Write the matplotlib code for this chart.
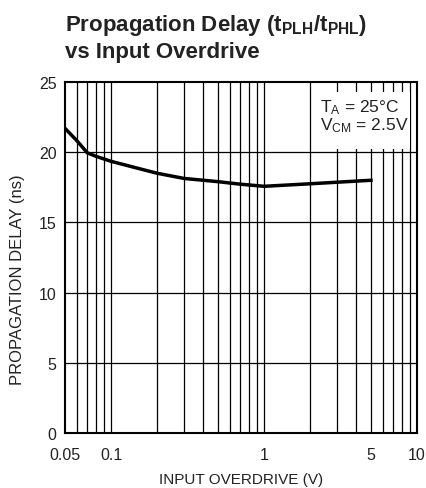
import numpy as np
import matplotlib.pyplot as plt
from matplotlib.ticker import FixedLocator, FixedFormatter, NullFormatter
from matplotlib.patches import Rectangle

plt.rcParams['font.family'] = ['Liberation Sans Narrow', 'Liberation Sans', 'DejaVu Sans']
plt.rcParams['mathtext.default'] = 'regular'

# curve
overdrive = [0.05, 0.06, 0.07, 0.08, 0.1, 0.15, 0.2, 0.3, 0.5, 0.7, 1.0, 2.0, 5.0]
delay = [21.7, 20.8, 19.95, 19.7, 19.35, 18.85, 18.5, 18.13, 17.9, 17.72, 17.57, 17.75, 18.0]

x_ticks = [0.05, 0.1, 1, 5, 10]
x_tick_labels = ['0.05', '0.1', '1', '5', '10']
y_ticks = [0, 5, 10, 15, 20, 25]

fig = plt.figure(figsize=(4.27, 4.89), dpi=100)
ax = fig.add_axes([0.1522, 0.1125, 0.8244, 0.7178])

ax.plot(overdrive, delay, color='black', linewidth=2.5, zorder=4)

ax.set_xscale('log')
ax.set_xlim(0.05, 10)
ax.set_ylim(0, 25)

# vertical grid at every decade subdivision
grid_x = [0.06, 0.07, 0.08, 0.09, 0.1, 0.2, 0.3, 0.4, 0.5, 0.6, 0.7, 0.8, 0.9,
          1, 2, 3, 4, 5, 6, 7, 8, 9]
for gx in grid_x:
    ax.axvline(gx, color='black', linewidth=0.9, zorder=1)
for gy in [5, 10, 15, 20]:
    ax.axhline(gy, color='black', linewidth=0.9, zorder=1)

ax.xaxis.set_major_locator(FixedLocator(x_ticks))
ax.xaxis.set_major_formatter(FixedFormatter(x_tick_labels))
ax.xaxis.set_minor_formatter(NullFormatter())
ax.set_yticks(y_ticks)
ax.tick_params(which='both', length=0, labelsize=11.5, pad=6, colors='#222222')
ax.tick_params(axis='x', pad=10)

for sp in ax.spines.values():
    sp.set_linewidth(1.5)

ax.set_xlabel('INPUT OVERDRIVE (V)', fontsize=11, color='#222222', va='center')
ax.xaxis.set_label_coords(0.5, -0.131)
ax.set_ylabel('PROPAGATION DELAY (ns)', fontsize=12, color='#222222')
ax.yaxis.set_label_coords(-0.115, 0.44)

# condition box covering the grid
ax.add_patch(Rectangle((0.719, 0.809), 0.261, 0.162, transform=ax.transAxes,
                       facecolor='white', edgecolor='none', zorder=3))
ax.text(0.725, 0.917, '$T_A$ = 25°C', transform=ax.transAxes, fontsize=12.5,
        va='baseline', ha='left', zorder=5, color='#222222')
ax.text(0.725, 0.866, '$V_{CM}$ = 2.5V', transform=ax.transAxes, fontsize=12.5,
        va='baseline', ha='left', zorder=5, color='#222222')

fig.text(0.152, 0.948, r'Propagation Delay ($t_{PLH}$/$t_{PHL}$)', fontsize=16,
         fontweight='bold', ha='left', va='center', color='#222222')
fig.text(0.152, 0.893, 'vs Input Overdrive', fontsize=16,
         fontweight='bold', ha='left', va='center', color='#222222')

fig.savefig('out.png', dpi=100)
